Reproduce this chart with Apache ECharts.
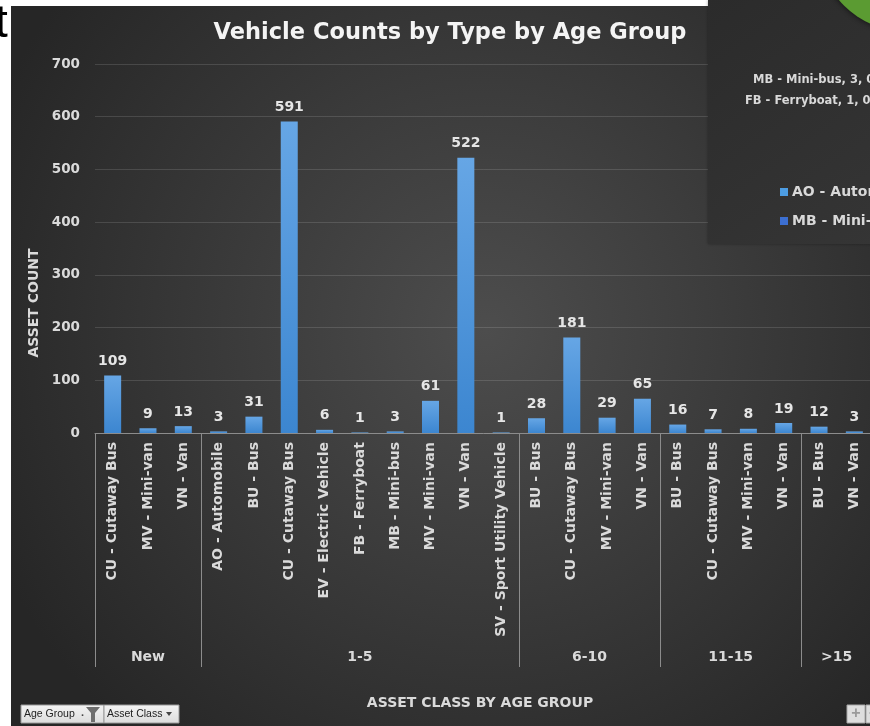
<!DOCTYPE html>
<html><head><meta charset="utf-8">
<script src="https://cdn.jsdelivr.net/npm/echarts@6/dist/echarts.min.js"></script>
<style>html,body{margin:0;padding:0;background:#fff;overflow:hidden;width:870px;height:726px}#c{position:absolute;left:0;top:0;width:875px;height:726px}</style>
</head><body><div id="c"></div>
<script>
// ---- data ----
const categories = ['CU - Cutaway Bus','MV - Mini-van','VN - Van',
  'AO - Automobile','BU - Bus','CU - Cutaway Bus','EV - Electric Vehicle','FB - Ferryboat','MB - Mini-bus','MV - Mini-van','VN - Van','SV - Sport Utility Vehicle',
  'BU - Bus','CU - Cutaway Bus','MV - Mini-van','VN - Van',
  'BU - Bus','CU - Cutaway Bus','MV - Mini-van','VN - Van',
  'BU - Bus','VN - Van'];
const counts = [109,9,13, 3,31,591,6,1,3,61,522,1, 28,181,29,65, 16,7,8,19, 12,3];
const ageGroups = ['New','1-5','6-10','11-15','>15'];
const groupSizes = [3,9,4,4,2];
const yMin = 0, yMax = 700, yStep = 100;
const chartTitle = 'Vehicle Counts by Type by Age Group';
const yTitle = 'ASSET COUNT';
const xTitle = 'ASSET CLASS BY AGE GROUP';
const pieLabels = ['MB - Mini-bus, 3, 0%','FB - Ferryboat, 1, 0%'];
const legendItems = ['AO - Automobile','MB - Mini-bus'];
const legendColors = ['#4d9de3','#3c6fd1'];
const fieldButtons = ['Age Group','Asset Class'];

// ---- derived ----
const FONT = '"DejaVu Sans", sans-serif';
const boundaries = new Set([0]);
let acc = 0;
groupSizes.forEach(s => { acc += s; boundaries.add(acc); });
const N = categories.length;
const halfPts = new Array(2 * N + 1).fill('');
acc = 0;
groupSizes.forEach((s, i) => { halfPts[2 * acc + s] = ageGroups[i]; acc += s; });

const chart = echarts.init(document.getElementById('c'), null, {renderer: 'canvas', width: 875, height: 726});

const txt = (o) => ({type: 'text', silent: true, ...o});
const btnFill = () => new echarts.graphic.LinearGradient(0,0,0,1,[{offset:0,color:'#f4f4f4'},{offset:1,color:'#dcdcdc'}]);

const graphic = [
  txt({x: -5, y: 24, z: -20, style: {text: 't', font: '46px "Liberation Sans"', fill: '#000', verticalAlign: 'middle'}}),
  {type: 'rect', z: -10, silent: true, shape: {x: 11, y: 6, width: 864, height: 720},
    style: {fill: new echarts.graphic.RadialGradient(0.55, 0.45, 0.75, [
      {offset: 0, color: '#4d4d4d'}, {offset: 1, color: '#262626'}])}},
  txt({x: 450, y: 33, style: {text: chartTitle, font: 'bold 22.5px ' + FONT, fill: '#f4f4f4', align: 'center', verticalAlign: 'middle'}}),
  txt({x: 34, y: 303, rotation: Math.PI / 2, style: {text: yTitle, font: 'bold 14px ' + FONT, fill: '#dadada', align: 'center', verticalAlign: 'middle'}}),
  txt({x: 480, y: 703, style: {text: xTitle, font: 'bold 14px ' + FONT, fill: '#dadada', align: 'center', verticalAlign: 'middle'}}),
  // field buttons
  {type: 'rect', silent: true, shape: {x: 21, y: 705, width: 83, height: 18}, style: {fill: btnFill(), stroke: '#9a9a9a', lineWidth: 1}},
  txt({x: 24, y: 714, style: {text: fieldButtons[0], font: '10.5px "Liberation Sans"', fill: '#222', verticalAlign: 'middle'}}),
  txt({x: 81, y: 713, style: {text: '.', font: 'bold 11px "Liberation Sans"', fill: '#444', verticalAlign: 'middle'}}),
  {type: 'polygon', silent: true, shape: {points: [[86,707],[100,707],[95,713],[95,722],[91,722],[91,713]]}, style: {fill: '#6e6e6e'}},
  {type: 'rect', silent: true, shape: {x: 104, y: 705, width: 75, height: 18}, style: {fill: btnFill(), stroke: '#9a9a9a', lineWidth: 1}},
  txt({x: 107, y: 714, style: {text: fieldButtons[1], font: '10.5px "Liberation Sans"', fill: '#222', verticalAlign: 'middle'}}),
  {type: 'polygon', silent: true, shape: {points: [[166,712],[172,712],[169,716]]}, style: {fill: '#444'}},
  // +/- buttons
  {type: 'rect', silent: true, shape: {x: 847, y: 705, width: 18, height: 18}, style: {fill: '#dedede', stroke: '#a8a8a8'}},
  txt({x: 856, y: 714, style: {text: '+', font: 'bold 16px "Liberation Sans"', fill: '#9a9a9a', align: 'center', verticalAlign: 'middle'}}),
  {type: 'rect', silent: true, shape: {x: 866, y: 705, width: 18, height: 18}, style: {fill: '#dedede', stroke: '#a8a8a8'}},
  txt({x: 869, y: 713, style: {text: '-', font: 'bold 16px "Liberation Sans"', fill: '#9a9a9a', verticalAlign: 'middle'}}),
  // overlay of other chart (top right)
  {type: 'rect', z: 100, silent: true, shape: {x: 708, y: 0, width: 170, height: 244},
    style: {fill: new echarts.graphic.LinearGradient(0,0,1,1,[{offset:0,color:'#2b2b2b'},{offset:1,color:'#353535'}]), shadowBlur: 3, shadowColor: 'rgba(0,0,0,0.35)'}},
  {type: 'circle', z: 101, silent: true, shape: {cx: 905, cy: -55, r: 86},
    style: {fill: '#5b9b32', shadowBlur: 6, shadowColor: 'rgba(0,0,0,0.7)'}},
  txt({x: 753, y: 80, z: 101, style: {text: pieLabels[0], font: 'bold 11.5px ' + FONT, fill: '#d9d9d9', verticalAlign: 'middle'}}),
  txt({x: 745, y: 101, z: 101, style: {text: pieLabels[1], font: 'bold 11.5px ' + FONT, fill: '#d9d9d9', verticalAlign: 'middle'}}),
  {type: 'rect', z: 101, silent: true, shape: {x: 780, y: 188, width: 8, height: 8}, style: {fill: legendColors[0]}},
  txt({x: 792, y: 192, z: 101, style: {text: legendItems[0], font: 'bold 14px ' + FONT, fill: '#d9d9d9', verticalAlign: 'middle'}}),
  {type: 'rect', z: 101, silent: true, shape: {x: 780, y: 217, width: 8, height: 8}, style: {fill: legendColors[1]}},
  txt({x: 792, y: 221, z: 101, style: {text: legendItems[1], font: 'bold 14px ' + FONT, fill: '#d9d9d9', verticalAlign: 'middle'}})
];

const option = {
  backgroundColor: '#ffffff',
  animation: false,
  grid: {left: 95, right: 1, top: 64, bottom: 293, containLabel: false},
  xAxis: [{
    type: 'category',
    data: categories,
    axisLine: {lineStyle: {color: '#8c8c8c', width: 1}},
    axisTick: {show: true, length: 234, interval: (idx) => boundaries.has(idx), lineStyle: {color: '#8c8c8c', width: 1}},
    axisLabel: {interval: 0, rotate: 90, margin: 9, color: '#dadada', fontFamily: FONT, fontWeight: 'bold', fontSize: 14},
    splitLine: {show: false}
  }, {
    type: 'category',
    data: halfPts,
    boundaryGap: false,
    position: 'bottom',
    axisLine: {show: false},
    axisTick: {show: false},
    axisLabel: {interval: 0, margin: 217, color: '#dadada', fontFamily: FONT, fontWeight: 'bold', fontSize: 14},
    splitLine: {show: false}
  }],
  yAxis: {
    type: 'value', min: yMin, max: yMax, interval: yStep,
    axisLine: {show: false}, axisTick: {show: false},
    axisLabel: {margin: 15, color: '#dadada', fontFamily: FONT, fontWeight: 'bold', fontSize: 13.5},
    splitLine: {lineStyle: {color: 'rgba(255,255,255,0.13)', width: 1}}
  },
  series: [{
    type: 'bar',
    xAxisIndex: 0,
    data: counts,
    barWidth: 17,
    itemStyle: {color: new echarts.graphic.LinearGradient(0, 0, 0, 1, [
      {offset: 0, color: '#66a6e5'}, {offset: 1, color: '#3c86d0'}])},
    label: {show: true, position: 'top', distance: 7, color: '#e6e6e6', fontFamily: FONT, fontWeight: 'bold', fontSize: 14}
  }],
  graphic: graphic
};
chart.setOption(option);
</script></body></html>
